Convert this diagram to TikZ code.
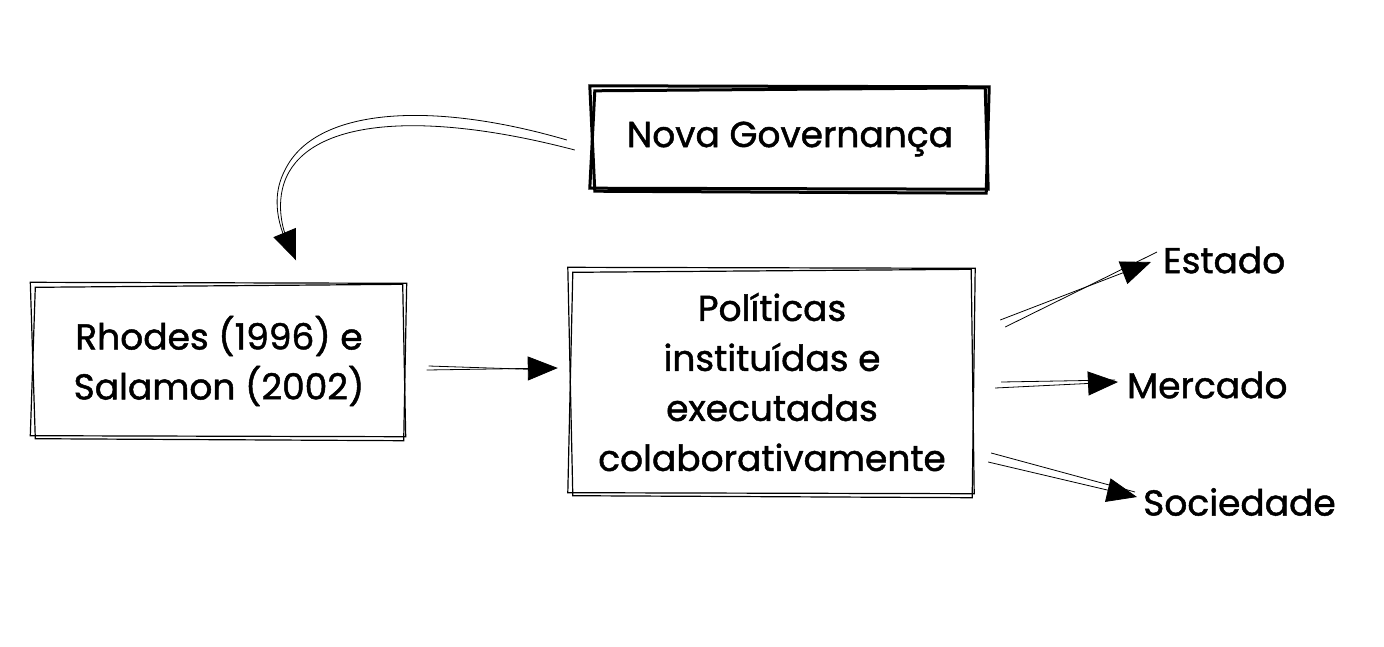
\documentclass[tikz,border=0pt]{standalone}
\usepackage{fontspec}
\setmainfont{Poppins}[FakeBold=1.3]
\usetikzlibrary{positioning, arrows.meta}

% rough double outline round a box node
\newcommand{\sketchbox}[2]{%
\draw[line width=#2] ([shift={(-3,-2)}]#1.north west) -- ([shift={(2,-1)}]#1.north east)
  -- ([shift={(-1,3)}]#1.south east) -- ([shift={(2,1)}]#1.south west) -- cycle;
\draw[line width=#2] ([shift={(2,3)}]#1.north west) -- ([shift={(-2,0)}]#1.north east)
  -- ([shift={(1,-1)}]#1.south east) -- ([shift={(-3,-2)}]#1.south west) -- cycle;
}

\begin{document}
\begin{tikzpicture}[
x=1pt, y=-1pt,
box/.style={minimum width=#1, inner sep=0pt, anchor=center},
txt/.style={font=\fontsize{36}{50}\selectfont, align=center, inner sep=0pt},
con/.style={line width=0.8pt},
>={Triangle[length=30pt, width=24pt]}
]
\useasboundingbox (0,0) rectangle (1384,646);

% boxes
\node[box=394pt, minimum height=102pt, txt] (gov) at (790,139) {Nova Governança};
\node[box=371pt, minimum height=153pt, txt] (rh) at (219,361) {Rhodes (1996) e\\Salamon (2002)};
\node[box=402pt, minimum height=225pt, txt] (pol) at (772,382) {Políticas\\instituídas e\\executadas\\colaborativamente};

\sketchbox{gov}{3pt}
\sketchbox{rh}{1.2pt}
\sketchbox{pol}{1.2pt}

% labels on the right
\node[txt, anchor=west] (est) at (1163,260) {Estado};
\node[txt, anchor=west] (mer) at (1127,385) {Mercado};
\node[txt, anchor=west] (soc) at (1143,502) {Sociedade};

% arrows
\draw[con, ->] ([shift={(-18,11)}]gov.west) .. controls (430,112) and (320,118) .. (289,172)
  .. controls (272,202) and (286,236) .. ([shift={(77,-24)}]rh.north);
\draw[con] ([shift={(-26,1)}]gov.west) .. controls (430,100) and (315,108) .. (285,170)
  .. controls (268,202) and (282,236) .. ([shift={(74,-30)}]rh.north);

\draw[con, ->] ([shift={(22,9)}]rh.east) -- ([shift={(-13,-14)}]pol.west);
\draw[con] ([shift={(24,5)}]rh.east) -- ([shift={(-20,-12)}]pol.west);

\draw[con, ->] ([shift={(27,-62)}]pol.east) -- ([shift={(-12,2)}]est.west);
\draw[con] ([shift={(32,-55)}]pol.east) -- ([shift={(-6,-8)}]est.west);

\draw[con, ->] ([shift={(22,6)}]pol.east) -- ([shift={(-9,-3)}]mer.west);
\draw[con] ([shift={(28,0)}]pol.east) -- ([shift={(-12,-5)}]mer.west);

\draw[con, ->] ([shift={(15,80)}]pol.east) -- ([shift={(-6,-5)}]soc.west);
\draw[con] ([shift={(18,71)}]pol.east) -- ([shift={(-8,-10)}]soc.west);

\end{tikzpicture}
\end{document}
